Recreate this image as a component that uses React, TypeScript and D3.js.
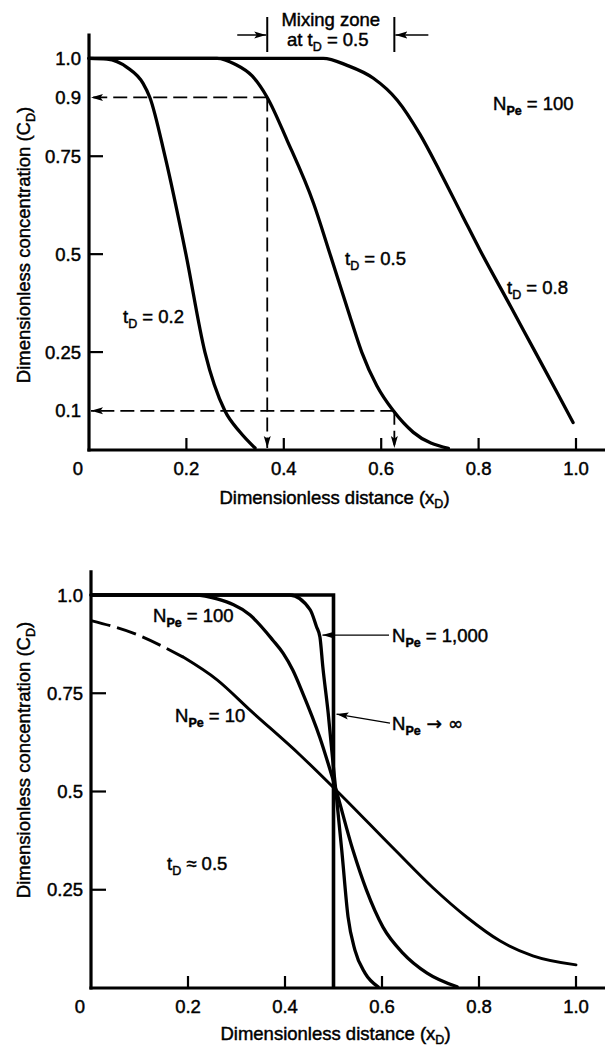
import React from "react";
import * as d3 from "d3";

// ---------- data ----------
const xTicks = [0.2, 0.4, 0.6, 0.8, 1.0];
const xTickLabels = ["0.2", "0.4", "0.6", "0.8", "1.0"];
const topYTicks = [1.0, 0.9, 0.75, 0.5, 0.25, 0.1];
const topYTickLabels = ["1.0", "0.9", "0.75", "0.5", "0.25", "0.1"];
const topYTickMarks = [1.0, 0.75, 0.5, 0.25];
const botYTicks = [1.0, 0.75, 0.5, 0.25];
const botYTickLabels = ["1.0", "0.75", "0.5", "0.25"];

// Top panel: N_Pe = 100, three times
const xD_t02 = [0, 0.037, 0.078, 0.111, 0.125, 0.156, 0.199, 0.238, 0.279, 0.31, 0.341];
const cD_t02 = [1.0, 0.998, 0.977, 0.936, 0.9, 0.75, 0.5, 0.25, 0.1, 0.046, 0.005];

const xD_t05 = [0, 0.263, 0.3, 0.335, 0.366, 0.407, 0.461, 0.495, 0.536, 0.56, 0.591, 0.625, 0.666, 0.738];
const cD_t05 = [1.0, 1.0, 0.985, 0.955, 0.9, 0.79, 0.63, 0.5, 0.34, 0.25, 0.164, 0.1, 0.045, 0.004];

const xD_t08 = [0, 0.481, 0.53, 0.584, 0.633, 0.68, 0.721, 0.768, 0.803, 0.859, 0.912, 0.962, 0.994];
const cD_t08 = [1.0, 1.0, 0.982, 0.949, 0.893, 0.805, 0.71, 0.595, 0.51, 0.382, 0.26, 0.145, 0.07];

// mixing zone at t_D = 0.5 (x where C = 0.9 and C = 0.1)
const mixLevels = [0.9, 0.1];
const mixX = [0.366, 0.627];

// Bottom panel: t_D = 0.5, four Peclet numbers
const xD_pe10 = [0, 0.087, 0.19, 0.26, 0.328, 0.431, 0.505, 0.627, 0.705, 0.775, 0.843, 0.911, 1.0];
const cD_pe10 = [0.935, 0.903, 0.842, 0.784, 0.707, 0.593, 0.504, 0.351, 0.255, 0.18, 0.12, 0.082, 0.059];
const pe10DashedTo = 0.19;

const xD_pe100 = [0, 0.215, 0.26, 0.328, 0.375, 0.396, 0.416, 0.435, 0.472, 0.505, 0.54, 0.568, 0.602, 0.643, 0.693, 0.755];
const cD_pe100 = [1.0, 1.0, 0.99, 0.949, 0.885, 0.852, 0.809, 0.755, 0.637, 0.505, 0.351, 0.249, 0.155, 0.089, 0.038, 0.003];

const xD_pe1000 = [0, 0.41, 0.452, 0.465, 0.472, 0.478, 0.489, 0.499, 0.505, 0.517, 0.53, 0.544, 0.565, 0.592];
const cD_pe1000 = [1.0, 1.0, 0.962, 0.919, 0.893, 0.817, 0.7, 0.572, 0.5, 0.351, 0.181, 0.097, 0.038, 0.003];

const xD_peInf = [0, 0.5, 0.5];
const cD_peInf = [1.0, 1.0, 0.0];

// ---------- layout ----------
const W = 605;
const H = 1047;
const FONT = "'Liberation Sans', Arial, Helvetica, sans-serif";
const FS = 18.5;

const topX = d3.scaleLinear().domain([0, 1]).range([89, 576]);
const topY = d3.scaleLinear().domain([0, 1]).range([450, 58.3]);
const botX = d3.scaleLinear().domain([0, 1]).range([91, 576]);
const botY = d3.scaleLinear().domain([0, 1]).range([988, 595]);

type Pt = [number, number];
const zip = (xs: number[], ys: number[]): Pt[] => xs.map((x, i) => [x, ys[i]] as Pt);

function linePath(sx: any, sy: any, pts: Pt[], curve: any = d3.curveMonotoneX) {
  return d3
    .line<Pt>()
    .x((d) => sx(d[0]))
    .y((d) => sy(d[1]))
    .curve(curve)(pts) as string;
}

const txtStyle: React.CSSProperties = {
  fontFamily: FONT,
  fontSize: FS,
  fill: "#000",
  stroke: "#000",
  strokeWidth: 0.45,
};

function SubText(props: {
  x: number;
  y: number;
  main: string;
  sub: string;
  rest: string;
  anchor?: string;
  subBold?: boolean;
  restFont?: string;
}) {
  const { x, y, main, sub, rest, anchor, subBold, restFont } = props;
  return (
    <text x={x} y={y} textAnchor={anchor || "start"} style={txtStyle}>
      {main}
      <tspan dy={5} fontSize={12.5} fontWeight={subBold ? "bold" : "normal"}>
        {sub}
      </tspan>
      <tspan dy={-5} style={restFont ? { fontFamily: restFont } : undefined}>
        {rest}
      </tspan>
    </text>
  );
}

function Axes(props: {
  sx: any;
  sy: any;
  yTicks: number[];
  yLabels: string[];
  yTickMarks: number[];
  yTickLen: number;
  titleBaseline: number;
  yTitleCenter: number;
}) {
  const { sx, sy, yTicks, yLabels, yTickMarks, yTickLen, titleBaseline, yTitleCenter } = props;
  const x0 = sx(0);
  const y0 = sy(0);
  const yTop = sy(1.063);
  return (
    <g>
      {/* axes */}
      <line x1={x0} x2={x0} y1={yTop} y2={y0 + 1.6} stroke="#000" strokeWidth={3.2} />
      <line x1={x0 - 1.6} x2={W} y1={y0} y2={y0} stroke="#000" strokeWidth={3.2} />
      {/* x ticks (inward) */}
      {xTicks.map((t) => (
        <line key={"xt" + t} x1={sx(t)} x2={sx(t)} y1={y0} y2={y0 - 12} stroke="#000" strokeWidth={2.2} />
      ))}
      {xTicks.map((t, i) => (
        <text key={"xl" + t} x={sx(t)} y={y0 + 25} textAnchor="middle" style={txtStyle}>
          {xTickLabels[i]}
        </text>
      ))}
      <text x={x0 - 11} y={y0 + 25} textAnchor="middle" style={txtStyle}>
        0
      </text>
      {/* y ticks (inward) */}
      {yTickMarks.map((t) => (
        <line key={"yt" + t} x1={x0} x2={x0 + yTickLen} y1={sy(t)} y2={sy(t)} stroke="#000" strokeWidth={2.2} />
      ))}
      {yTicks.map((t, i) => (
        <text key={"yl" + t} x={x0 - 8} y={sy(t)} dy="0.36em" textAnchor="end" style={txtStyle}>
          {yLabels[i]}
        </text>
      ))}
      {/* titles */}
      <text x={(sx(0) + sx(1)) / 2 + 2} y={titleBaseline} textAnchor="middle" style={txtStyle}>
        Dimensionless distance (x
        <tspan dy={4} fontSize={12.5}>
          D
        </tspan>
        <tspan dy={-4}>)</tspan>
      </text>
      <text
        transform={`translate(30,${yTitleCenter}) rotate(-90)`}
        textAnchor="middle"
        style={txtStyle}
      >
        Dimensionless concentration (C
        <tspan dy={5} fontSize={12.5}>
          D
        </tspan>
        <tspan dy={-5}>)</tspan>
      </text>
    </g>
  );
}

export default function App() {
  const curveStroke = { fill: "none", stroke: "#000", strokeWidth: 3.3, strokeLinejoin: "round" as const, strokeLinecap: "round" as const };

  const pe10 = zip(xD_pe10, cD_pe10);
  const pe10Dashed = pe10.filter((d) => d[0] <= pe10DashedTo);
  const pe10Solid = pe10.filter((d) => d[0] >= pe10DashedTo);

  // annotation geometry derived from data
  const mzL = topX(mixX[0]);
  const mzR = topX(mixX[1]);

  const arr1000Tip: Pt = [0.473, 0.898];
  const arrInfTip: Pt = [0.5, 0.697];

  return (
    <svg
      width={W}
      height={H}
      viewBox={`0 0 ${W} ${H}`}
      style={{ position: "absolute", left: 0, top: 0, background: "#fff" }}
    >
      <defs>
        <marker
          id="ah"
          viewBox="0 0 12 8"
          refX={12}
          refY={4}
          markerWidth={12}
          markerHeight={8}
          markerUnits="userSpaceOnUse"
          orient="auto"
        >
          <path d="M0,0.5 L12,4 L0,7.5 L2.5,4 Z" fill="#000" />
        </marker>
      </defs>
      <rect x={0} y={0} width={W} height={H} fill="#fff" />

      {/* ================= TOP PANEL ================= */}
      <Axes
        sx={topX}
        sy={topY}
        yTicks={topYTicks}
        yLabels={topYTickLabels}
        yTickMarks={topYTickMarks}
        yTickLen={14}
        titleBaseline={504}
        yTitleCenter={245}
      />

      {/* dashed mixing-zone guides */}
      {mixLevels.map((lv, i) => (
        <g key={"mz" + i}>
          <line
            x1={topX(mixX[i])}
            x2={topX(0) + 2}
            y1={topY(lv)}
            y2={topY(lv)}
            stroke="#000"
            strokeWidth={1.8}
            strokeDasharray="14,6"
            markerEnd="url(#ah)"
          />
          <line
            x1={topX(mixX[i])}
            x2={topX(mixX[i])}
            y1={topY(lv)}
            y2={topY(0) - 2}
            stroke="#000"
            strokeWidth={1.8}
            strokeDasharray="14,6"
            markerEnd="url(#ah)"
          />
        </g>
      ))}

      <path d={linePath(topX, topY, zip(xD_t02, cD_t02))} {...curveStroke} />
      <path d={linePath(topX, topY, zip(xD_t05, cD_t05))} {...curveStroke} />
      <path d={linePath(topX, topY, zip(xD_t08, cD_t08))} {...curveStroke} />

      {/* mixing zone header */}
      <line x1={mzL} x2={mzL} y1={17} y2={52} stroke="#000" strokeWidth={2} />
      <line x1={mzR} x2={mzR} y1={17} y2={52} stroke="#000" strokeWidth={2} />
      <line x1={mzL - 30} x2={mzL - 1} y1={35} y2={35} stroke="#000" strokeWidth={1.5} markerEnd="url(#ah)" />
      <line x1={mzR + 34} x2={mzR + 1} y1={35} y2={35} stroke="#000" strokeWidth={1.5} markerEnd="url(#ah)" />
      <text x={(mzL + mzR) / 2} y={26} textAnchor="middle" style={txtStyle}>
        Mixing zone
      </text>
      <SubText x={(mzL + mzR) / 2 - 3} y={46} main="at t" sub="D" rest=" = 0.5" anchor="middle" />

      <SubText x={493} y={110} main="N" sub="Pe" rest=" = 100" subBold />
      <SubText x={123} y={323} main="t" sub="D" rest=" = 0.2" />
      <SubText x={345} y={265} main="t" sub="D" rest=" = 0.5" />
      <SubText x={507} y={294} main="t" sub="D" rest=" = 0.8" />

      {/* ================= BOTTOM PANEL ================= */}
      <Axes
        sx={botX}
        sy={botY}
        yTicks={botYTicks}
        yLabels={botYTickLabels}
        yTickMarks={botYTicks}
        yTickLen={15}
        titleBaseline={1040}
        yTitleCenter={760}
      />

      <path d={linePath(botX, botY, pe10Dashed)} {...curveStroke} strokeWidth={2.9} strokeDasharray="20,7" strokeLinecap="butt" />
      <path d={linePath(botX, botY, pe10Solid)} {...curveStroke} strokeWidth={2.9} />
      <path d={linePath(botX, botY, zip(xD_pe100, cD_pe100))} {...curveStroke} />
      <path d={linePath(botX, botY, zip(xD_pe1000, cD_pe1000))} {...curveStroke} />
      <path
        d={linePath(botX, botY, zip(xD_peInf, cD_peInf), d3.curveLinear)}
        fill="none"
        stroke="#000"
        strokeWidth={3.6}
        strokeLinejoin="miter"
      />

      {/* label arrows */}
      <line
        x1={389}
        y1={botY(arr1000Tip[1])}
        x2={botX(arr1000Tip[0]) + 2}
        y2={botY(arr1000Tip[1])}
        stroke="#000"
        strokeWidth={1.3}
        markerEnd="url(#ah)"
      />
      <line
        x1={390}
        y1={botY(arrInfTip[1]) + 9}
        x2={botX(arrInfTip[0]) + 3}
        y2={botY(arrInfTip[1])}
        stroke="#000"
        strokeWidth={1.3}
        markerEnd="url(#ah)"
      />

      <SubText x={153} y={622} main="N" sub="Pe" rest=" = 100" subBold />
      <SubText x={175} y={722} main="N" sub="Pe" rest=" = 10" subBold />
      <SubText x={392} y={642} main="N" sub="Pe" rest=" = 1,000" subBold />
      <SubText x={392} y={730} main="N" sub="Pe" rest=" → ∞" subBold restFont="'DejaVu Sans', sans-serif" />
      <SubText x={167} y={870} main="t" sub="D" rest=" ≈ 0.5" />
    </svg>
  );
}
